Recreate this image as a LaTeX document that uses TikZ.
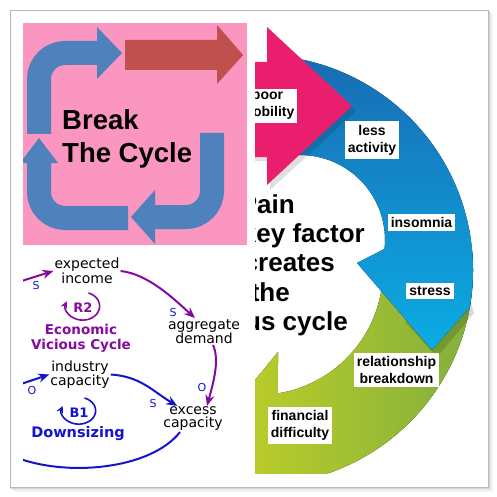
\documentclass[tikz,border=0pt]{standalone}
\usepackage{fontspec}
\setmainfont{Liberation Sans}
\newfontfamily\dvs{DejaVu Sans}
\usetikzlibrary{arrows.meta,calc}
\definecolor{pinkbg}{RGB}{250,150,192}
\definecolor{pptblue}{RGB}{79,129,189}
\definecolor{pptred}{RGB}{192,80,77}
\definecolor{magpink}{RGB}{233,30,108}
\definecolor{bluA}{RGB}{24,108,180}
\definecolor{bluB}{RGB}{12,172,228}
\definecolor{grnA}{RGB}{214,220,30}
\definecolor{grnB}{RGB}{128,174,62}
\definecolor{cldpurple}{RGB}{135,10,160}
\definecolor{cldblue}{RGB}{20,20,205}
\tikzset{
 lab/.style={fill=white, font=\fontsize{14}{17}\selectfont\bfseries, align=center, inner xsep=3pt, inner ysep=3.5pt, text=black},
 bigtxt/.style={font=\fontsize{26}{29}\selectfont\bfseries, anchor=base east, inner sep=0pt},
 bctxt/.style={font=\fontsize{27.5}{32}\selectfont\bfseries, anchor=base west, inner sep=0pt},
 cld/.style={font=\dvs\fontsize{14}{13}\selectfont, align=center, inner sep=1pt},
 pol/.style={font=\dvs\fontsize{11}{11}\selectfont, text=cldblue, inner sep=0pt},
 loopname/.style={font=\dvs\bfseries\fontsize{13.5}{15}\selectfont, align=center, inner sep=0pt},
 parrow/.style={draw=cldpurple, line width=2pt, -{Stealth[length=11pt,width=9pt]}},
 barrow/.style={draw=cldblue, line width=2pt, -{Stealth[length=11pt,width=9pt]}},
 band/.style={line width=24pt, rounded corners=26pt, draw=pptblue},
}
\begin{document}
\begin{tikzpicture}[x=1pt,y=-1pt]
\useasboundingbox (0,0) rectangle (497,497);
% frame with shadow
\fill[black!5] (14,14) rectangle (493,492);
\fill[black!10] (12,12) rectangle (491,490);
\fill[black!16] (11,11) rectangle (489.5,488.5);
\filldraw[fill=white,draw=black!28,line width=0.7pt] (10,10) rectangle (488,487);

% ---------- pink panel ----------
\fill[pinkbg] (23,23) rectangle (247,245);
\begin{scope}
\clip (23,23) rectangle (247,245);
\draw[band] (39,134) -- (39,53) -- (98,53);
\fill[pptblue] (97,27) -- (122,53) -- (97,79) -- cycle;
\draw[band] (212,133) -- (212,217) -- (154,217);
\fill[pptblue] (155,190) -- (131,217) -- (155,244) -- cycle;
\draw[band] (128,218) -- (39,218) -- (39,162);
\fill[pptblue] (20,163) -- (39,138) -- (58,163) -- cycle;
\fill[pptred] (125,40) -- (217,40) -- (217,25) -- (243,55) -- (217,84) -- (217,70) -- (125,70) -- cycle;
\end{scope}
\node[bctxt] (brk) at (62,130) {Break};
\node[bctxt] (tcy) at (62,162) {The Cycle};

% ---------- right panel: cycle ring ----------
\begin{scope}
\clip (255,23) rectangle (484,473);
\fill[left color=grnA, right color=grnB]
  ($(258,270)+(-5:125)$) -- ($(258,270)+(-5:215)$)
  arc[start angle=-5,end angle=125,radius=215]
  -- (228,413) -- (278,352) -- ($(258,270)+(80.8:125)$)
  arc[start angle=80.8,end angle=-5,radius=125] -- cycle;
\fill[black,opacity=.15] (474,313) -- (437,357) -- (405,322) -- (470,300) -- cycle;
\fill[top color=bluA,bottom color=bluB]
  ($(258,270)+(-85:215)$) arc[start angle=-85,end angle=10,radius=215]
  -- (432,350) -- (357,263) -- ($(300,240)+(6:85)$)
  arc[start angle=6,end angle=-105,radius=85] -- cycle;
\fill[black,opacity=.12] (250,66) -- (270,66) -- (270,31) -- (356,111) -- (270,190) -- (270,161) -- (250,161) -- cycle;
\fill[magpink] (250,62) -- (267,62) -- (267,27) -- (352,106) -- (267,185) -- (267,157) -- (250,157) -- cycle;
\node[lab] (pm) at (267.5,106) {poor\\mobility};
\node[lab] (la) at (372,140) {less\\activity};
\node[lab] (ins) at (421.5,222.5) {insomnia};
\node[lab] (st) at (430,291) {stress};
\node[lab] (rb) at (396.5,370) {relationship\\breakdown};
\node[lab] (fd) at (300,425.5) {financial\\difficulty};
\node[bigtxt] (t1) at (295,213.5) {Pain};
\node[bigtxt] (t2) at (365,242.5) {key factor};
\node[bigtxt] (t3) at (335,271.5) {creates};
\node[bigtxt] (t4) at (290,301) {the};
\node[bigtxt] (t5) at (348,330) {us cycle};
\end{scope}

% ---------- causal loop panel ----------
\begin{scope}
\clip (23,250) rectangle (255,473);
\node[cld] (ei) at (87,271) {expected\\income};
\node[cld] (ad) at (204,331.5) {aggregate\\demand};
\node[cld] (ic) at (80,374.5) {industry\\capacity};
\node[cld] (ex) at (193,419) {excess\\capacity};
\node[loopname,text=cldpurple] (evc) at (81,338) {Economic\\Vicious Cycle};
\node[loopname,text=cldblue,anchor=base,font=\dvs\bfseries\fontsize{14.5}{15}\selectfont] (dwn) at (78,437) {Downsizing};
\node[loopname,text=cldpurple,font=\dvs\bfseries\fontsize{13}{13}\selectfont] (r2) at (83,308) {R2};
\node[loopname,text=cldblue,font=\dvs\bfseries\fontsize{13}{13}\selectfont] (b1) at (79,413) {B1};
\draw[cldpurple,line width=1.6pt,-{Stealth[length=7pt,width=7pt]}] ($(r2.center)+(-70:16)$) arc[start angle=-70,end angle=200,x radius=17,y radius=14];
\draw[cldblue,line width=1.6pt,-{Stealth[length=7pt,width=7pt]}] ($(b1.center)+(-70:16)$) arc[start angle=-70,end angle=200,x radius=17,y radius=13.5];
\coordinate (pin) at (12,284);
\coordinate (bin) at (12,387);
\coordinate (bout) at (15,457);
\draw[parrow] (pin) -- (ei.west);
\draw[parrow] (ei.east) .. controls +(28,3) and +(-20,-18) .. ([xshift=-9pt]ad.north);
\draw[parrow] ([xshift=9pt]ad.south) .. controls +(7,15) and +(6,-22) .. ([xshift=14pt]ex.north);
\draw[barrow] (bin) -- (ic.west);
\draw[barrow] (ic.east) .. controls +(30,2) and +(-25,-15) .. ([xshift=15pt]ex.north west);
\draw[cldblue,line width=2pt] ([xshift=-13pt]ex.south) .. controls +(-30,38) and +(50,20) .. (bout);
\node[pol] (s1) at (36,285) {S};
\node[pol] (s2) at (173,312) {S};
\node[pol] (o1) at (32,390) {O};
\node[pol] (s3) at (153,403) {S};
\node[pol] (o2) at (202,387) {O};
\end{scope}
\end{tikzpicture}
\end{document}
